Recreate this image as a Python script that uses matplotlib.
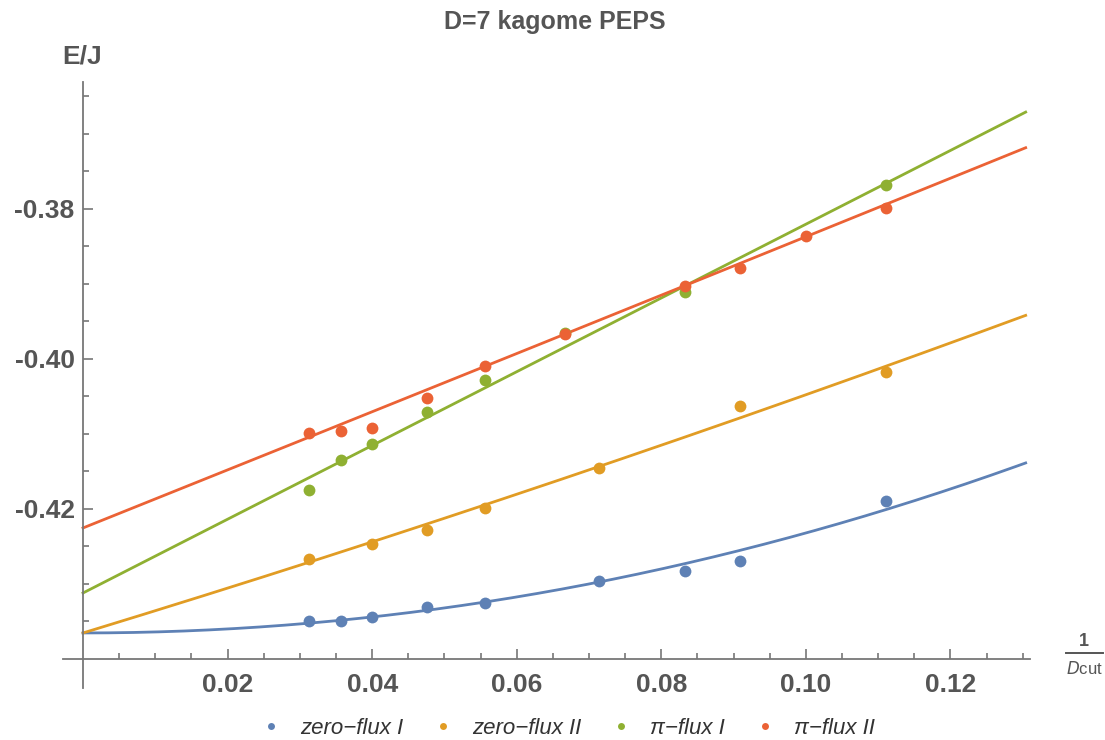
import numpy as np
import matplotlib
matplotlib.use("Agg")
import matplotlib.pyplot as plt
from matplotlib.lines import Line2D

plt.rcParams['font.family'] = ['Liberation Sans', 'DejaVu Sans']
plt.rcParams['axes.unicode_minus'] = False

# data: energies vs bond dimension cut Dcut (x = 1/Dcut)
dcut_zero1 = [32, 28, 25, 21, 18, 14, 12, 11, 9]
e_zero1 = [-0.43493, -0.43493, -0.4344, -0.43307, -0.43253, -0.4296, -0.42827, -0.42693, -0.41893]

dcut_zero2 = [32, 25, 21, 18, 14, 11, 9]
e_zero2 = [-0.42667, -0.42467, -0.4228, -0.41987, -0.41453, -0.40627, -0.40173]

dcut_pi1 = [32, 28, 25, 21, 18, 15, 12, 9]
e_pi1 = [-0.41747, -0.41347, -0.41133, -0.40707, -0.4028, -0.39653, -0.39107, -0.3768]

dcut_pi2 = [32, 28, 25, 21, 18, 15, 12, 11, 10, 9]
e_pi2 = [-0.40987, -0.4096, -0.4092, -0.4052, -0.40093, -0.39667, -0.39027, -0.38787, -0.3836, -0.37987]

# fit curves a + b x + c x^2
fit_zero1 = [-0.43653, 0.0, 1.333]
fit_zero2 = [-0.43653, 0.2942, 0.234]
fit_pi1 = [-0.4312, 0.4917, 0.0]
fit_pi2 = [-0.42253, 0.3866, 0.0166]

labels = ['zero\u2212flux I', 'zero\u2212flux II', '\u03c0\u2212flux I', '\u03c0\u2212flux II']
colors = ['#5E81B5', '#E19C24', '#8FB032', '#EB6235']

series = [(dcut_zero1, e_zero1, fit_zero1),
          (dcut_zero2, e_zero2, fit_zero2),
          (dcut_pi1, e_pi1, fit_pi1),
          (dcut_pi2, e_pi2, fit_pi2)]

fig = plt.figure(figsize=(11.05, 7.4), dpi=100)
ax = fig.add_axes([63/1105, 52/740, 967/1105, 606/740])

xs = np.linspace(0, 0.1304, 300)
for (d, e, f), c in zip(series, colors):
    ax.plot(xs, f[0] + f[1]*xs + f[2]*xs**2, color=c, lw=2.0, zorder=2)
for (d, e, f), c in zip(series, colors):
    ax.plot(1/np.array(d), e, 'o', color=c, ms=8.5, mec='none', zorder=3)

ax.set_xlim(-0.00277, 0.131)
ax.set_ylim(-0.44387, -0.36307)

axcol = '#777777'
txtcol = '#555555'
for s in ['top', 'right']:
    ax.spines[s].set_visible(False)
ax.spines['left'].set_position(('data', 0))
ax.spines['bottom'].set_position(('data', -0.44))
for s in ['left', 'bottom']:
    ax.spines[s].set_color(axcol)
    ax.spines[s].set_linewidth(1.3)

ax.set_xticks([0.02, 0.04, 0.06, 0.08, 0.10, 0.12])
ax.set_xticks(np.arange(0.005, 0.131, 0.005), minor=True)
ax.set_yticks([-0.42, -0.40, -0.38])
ax.set_yticks(np.arange(-0.435, -0.3632, 0.005), minor=True)
ax.xaxis.set_major_formatter(matplotlib.ticker.FormatStrFormatter('%.2f'))
ax.yaxis.set_major_formatter(matplotlib.ticker.FormatStrFormatter('%.2f'))
ax.tick_params(which='both', direction='in', color=axcol, width=1.2)
ax.tick_params(which='major', length=7)
ax.tick_params(which='minor', length=4)
ax.tick_params(axis='both', labelsize=19, labelcolor=txtcol)
for lab in ax.get_xticklabels() + ax.get_yticklabels():
    lab.set_fontweight('bold')
ax.tick_params(axis='x', pad=10)
ax.tick_params(axis='y', pad=6)

fig.text(555/1105, 1 - 22/740, 'D=7 kagome PEPS', ha='center', va='center',
         fontsize=18, fontweight='bold', color=txtcol)
fig.text(82/1105, 1 - 57/740, 'E/J', ha='center', va='center',
         fontsize=19, fontweight='bold', color=txtcol)

# x label as a fraction 1/Dcut
fig.text(1084/1105, 1 - 641/740, '1', ha='center', va='center', fontsize=13,
         fontweight='bold', color=txtcol)
fig.add_artist(Line2D([1066/1105, 1103/1105], [1 - 653/740, 1 - 653/740], color=txtcol, lw=1.4))
fig.text(1084/1105, 1 - 669/740, '$D$cut', ha='center', va='center', fontsize=12, color=txtcol)

handles = [Line2D([], [], ls='none', marker='o', ms=5, color=c, mec='none') for c in colors]
leg = fig.legend(handles, labels, loc='center', bbox_to_anchor=(562/1105, 1 - 728/740),
                 ncol=4, frameon=False, handletextpad=0.3, columnspacing=0.8,
                 prop={'size': 16, 'style': 'italic'})
for t in leg.get_texts():
    t.set_color('#333333')

fig.savefig('out.png', dpi=100)
